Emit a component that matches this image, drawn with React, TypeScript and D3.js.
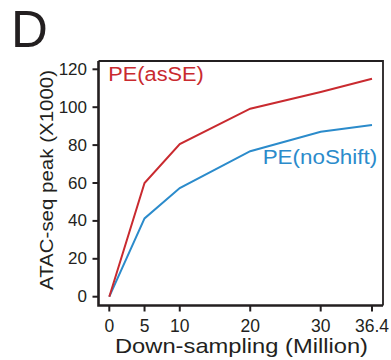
import { useEffect, useRef } from 'react';
import * as d3 from 'd3';

const depths = [0, 5, 10, 20, 30, 36.4];
const asSE = [0, 60, 80.5, 99.2, 108, 115];
const noShift = [0, 41.3, 57.3, 76.8, 87, 90.6];
const xTicks = [0, 5, 10, 20, 30, 36.4];
const yTicks = [0, 20, 40, 60, 80, 100, 120];

const FONT = '"Liberation Sans", Arial, Helvetica, sans-serif';
const INK = '#231f20';
const RED = '#c92a2f';
const BLUE = '#2b8bcb';

export default function App() {
  const svgRef = useRef<SVGSVGElement>(null);
  const width = 391;
  const height = 360;

  useEffect(() => {
    if (!svgRef.current) return;
    const svg = d3.select(svgRef.current);
    svg.selectAll('*').remove();

    // box edges
    const left = 98.5, right = 383, top = 61, bottom = 305.5;

    // the last tick sits a little wider than a straight line would put it
    const x = d3.scaleLinear().domain([0, 30, 36.4]).range([109.3, 320.7, 372]);
    const y = d3.scaleLinear().domain([0, 120]).range([296.7, 69.3]);

    // panel letter
    svg.append('text')
      .attr('x', 11).attr('y', 46.7)
      .attr('font-size', '51px').attr('font-family', FONT)
      .attr('fill', INK)
      .text('D');

    // frame: thin top/right, heavier left/bottom
    svg.append('path')
      .attr('d', `M${left},${top}H${right}V${bottom}`)
      .attr('fill', 'none').attr('stroke', INK).attr('stroke-width', 1.8);
    svg.append('path')
      .attr('d', `M${left},${top}V${bottom}H${right}`)
      .attr('fill', 'none').attr('stroke', INK).attr('stroke-width', 2.6);

    // y ticks
    yTicks.forEach(t => {
      svg.append('line')
        .attr('x1', left - 6).attr('x2', left).attr('y1', y(t)).attr('y2', y(t))
        .attr('stroke', INK).attr('stroke-width', 2);
      svg.append('text')
        .attr('x', 87).attr('y', y(t))
        .attr('text-anchor', 'end').attr('dominant-baseline', 'central')
        .attr('font-size', '17px').attr('font-family', FONT)
        .attr('fill', INK)
        .text(t);
    });

    // x ticks
    xTicks.forEach(t => {
      svg.append('line')
        .attr('x1', x(t)).attr('x2', x(t)).attr('y1', bottom).attr('y2', bottom + 6)
        .attr('stroke', INK).attr('stroke-width', 2);
      svg.append('text')
        .attr('x', x(t)).attr('y', 331.5)
        .attr('text-anchor', 'middle')
        .attr('font-size', '17.5px').attr('font-family', FONT)
        .attr('fill', INK)
        .text(t);
    });

    // axis titles
    svg.append('text')
      .attr('x', 115).attr('y', 353.3)
      .attr('font-size', '21px').attr('font-family', FONT)
      .attr('fill', INK)
      .attr('textLength', 253).attr('lengthAdjust', 'spacingAndGlyphs')
      .text('Down-sampling (Million)');

    svg.append('text')
      .attr('transform', 'translate(52.5,290) rotate(-90)')
      .attr('font-size', '19px').attr('font-family', FONT)
      .attr('fill', INK)
      .attr('textLength', 220).attr('lengthAdjust', 'spacingAndGlyphs')
      .text('ATAC-seq peak (X1000)');

    // series
    const line = d3.line<number>()
      .x((_, i) => x(depths[i]))
      .y(d => y(d));

    svg.append('path')
      .attr('d', line(noShift))
      .attr('fill', 'none').attr('stroke', BLUE).attr('stroke-width', 2);
    svg.append('path')
      .attr('d', line(asSE))
      .attr('fill', 'none').attr('stroke', RED).attr('stroke-width', 2);

    // series labels
    svg.append('text')
      .attr('x', 108.3).attr('y', 81)
      .attr('font-size', '20px').attr('font-family', FONT)
      .attr('fill', RED)
      .attr('textLength', 95.5).attr('lengthAdjust', 'spacingAndGlyphs')
      .text('PE(asSE)');

    svg.append('text')
      .attr('x', 262.7).attr('y', 164)
      .attr('font-size', '19.5px').attr('font-family', FONT)
      .attr('fill', BLUE)
      .attr('textLength', 114.5).attr('lengthAdjust', 'spacingAndGlyphs')
      .text('PE(noShift)');
  }, []);

  return (
    <svg
      ref={svgRef}
      width={width}
      height={height}
      style={{ position: 'absolute', left: 0, top: 0, background: '#fff' }}
    />
  );
}
